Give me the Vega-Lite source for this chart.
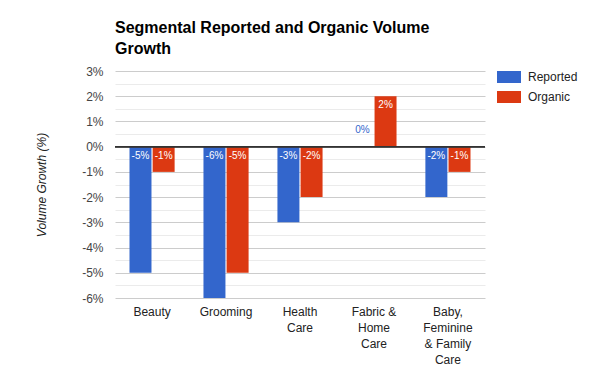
{
  "$schema": "https://vega.github.io/schema/vega-lite/v6.json",
  "autosize": "none",
  "width": 370,
  "height": 227,
  "padding": {"left": 115, "top": 71, "right": 115, "bottom": 73},
  "background": "white",
  "title": {
    "text": ["Segmental Reported and Organic Volume", "Growth"],
    "anchor": "start",
    "frame": "group",
    "font": "Liberation Sans",
    "fontSize": 16,
    "fontWeight": "bold",
    "color": "#000000",
    "lineHeight": 21,
    "baseline": "top",
    "dy": -8,
    "offset": 0
  },
  "config": {
    "view": {"stroke": null},
    "font": "Liberation Sans"
  },
  "data": {
    "values": [
      {"segment": "Beauty", "type": "Reported", "value": -0.05},
      {"segment": "Beauty", "type": "Organic", "value": -0.01},
      {"segment": "Grooming", "type": "Reported", "value": -0.06},
      {"segment": "Grooming", "type": "Organic", "value": -0.05},
      {"segment": "Health Care", "type": "Reported", "value": -0.03},
      {"segment": "Health Care", "type": "Organic", "value": -0.02},
      {"segment": "Fabric & Home Care", "type": "Reported", "value": 0},
      {"segment": "Fabric & Home Care", "type": "Organic", "value": 0.02},
      {"segment": "Baby, Feminine & Family Care", "type": "Reported", "value": -0.02},
      {"segment": "Baby, Feminine & Family Care", "type": "Organic", "value": -0.01}
    ]
  },
  "transform": [
    {"calculate": "round(datum.value * 100) + '%'", "as": "label"},
    {"calculate": "max(datum.value, 0)", "as": "lpos"}
  ],
  "encoding": {
    "x": {
      "field": "segment",
      "type": "nominal",
      "sort": null,
      "scale": {"paddingInner": 0.39, "paddingOuter": 0.196},
      "axis": {
        "title": null,
        "domain": false,
        "ticks": false,
        "labelAngle": 0,
        "labelFontSize": 12,
        "labelColor": "#222222",
        "labelPadding": 8,
        "labelLineHeight": 16,
        "labelBaseline": "top",
        "labelExpr": "datum.label == 'Health Care' ? ['Health', 'Care'] : datum.label == 'Fabric & Home Care' ? ['Fabric &', 'Home', 'Care'] : datum.label == 'Baby, Feminine & Family Care' ? ['Baby,', 'Feminine', '& Family', 'Care'] : datum.label"
      }
    },
    "xOffset": {
      "field": "type",
      "type": "nominal",
      "sort": ["Reported", "Organic"],
      "scale": {"paddingInner": 0.05}
    },
    "y": {
      "field": "value",
      "type": "quantitative",
      "title": "Volume Growth (%)",
      "scale": {"domain": [-0.06, 0.03], "nice": false, "zero": false},
      "axis": {
        "tickCount": 18,
        "labelExpr": "abs(datum.value * 100 - round(datum.value * 100)) > 0.1 ? '' : (round(datum.value * 100) + '%')",
        "labelOverlap": false,
        "titleFontStyle": "italic",
        "titleFontWeight": "normal",
        "titleFontSize": 12,
        "titleColor": "#222222",
        "titlePadding": 33,
        "domain": false,
        "ticks": false,
        "labelFontSize": 12,
        "labelColor": "#444444",
        "labelPadding": 12,
        "grid": true,
        "gridColor": {
          "condition": {"test": "abs(datum.value * 100 - round(datum.value * 100)) > 0.1", "value": "#ebebeb"},
          "value": "#cccccc"
        }
      }
    }
  },
  "layer": [
    {
      "mark": {"type": "bar"},
      "encoding": {
        "color": {
          "field": "type",
          "type": "nominal",
          "sort": ["Reported", "Organic"],
          "scale": {"domain": ["Reported", "Organic"], "range": ["#3366cc", "#dc3912"]},
          "legend": {
            "title": null,
            "orient": "none",
            "legendX": 382,
            "legendY": -6,
            "symbolType": "M-1,-0.5H1V0.5H-1Z",
            "symbolSize": 576,
            "symbolStrokeWidth": 0,
            "symbolOpacity": 1,
            "labelFontSize": 12,
            "labelColor": "#222222",
            "labelOffset": 7,
            "rowPadding": 2,
            "padding": 0
          }
        }
      }
    },
    {
      "mark": {"type": "rule", "color": "#333333", "strokeWidth": 1},
      "encoding": {"y": {"datum": 0}, "x": {"value": 0}, "x2": {"value": 370}, "xOffset": null}
    },
    {
      "transform": [{"filter": "datum.value != 0"}],
      "mark": {"type": "text", "color": "white", "fontSize": 10, "baseline": "top", "dy": 4},
      "encoding": {
        "y": {"field": "lpos", "type": "quantitative", "title": "Volume Growth (%)"},
        "text": {"field": "label", "type": "nominal"}
      }
    },
    {
      "transform": [{"filter": "datum.value == 0"}],
      "mark": {"type": "text", "color": "#3366cc", "fontSize": 10, "baseline": "bottom", "dy": -12},
      "encoding": {
        "y": {"field": "lpos", "type": "quantitative", "title": "Volume Growth (%)"},
        "text": {"field": "label", "type": "nominal"}
      }
    }
  ]
}
